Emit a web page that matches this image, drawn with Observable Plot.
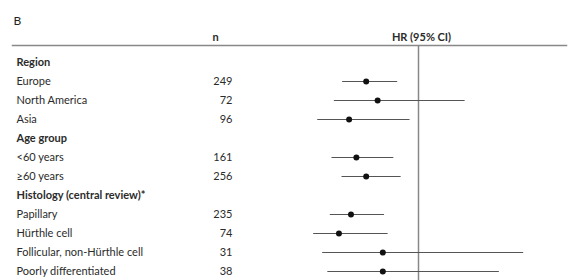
<!DOCTYPE html>
<html>
<head>
<meta charset="utf-8">
<script src="https://cdn.jsdelivr.net/npm/d3@7"></script>
<script src="https://cdn.jsdelivr.net/npm/@observablehq/plot@0.6"></script>
<style>
  body { margin: 0; background: #fff; }
  #chart svg { display: block; }
</style>
</head>
<body>
<div id="chart"></div>
<script>
// Row labels (in order), which rows are group headings, and sample sizes
const labels = [
  "Region", "Europe", "North America", "Asia",
  "Age group", "<60 years", "≥60 years",
  "Histology (central review)*", "Papillary", "Hürthle cell",
  "Follicular, non-Hürthle cell", "Poorly differentiated"
];
const isHeading = [true, false, false, false, true, false, false, true, false, false, false, false];
const nValues = [null, 249, 72, 96, null, 161, 256, null, 235, 74, 31, 38];
// Hazard ratios and 95% CI
const hr   = [null, 0.52, 0.60, 0.42, null, 0.46, 0.52, null, 0.43, 0.37, 0.64, 0.64];
const ciLo = [null, 0.385, 0.347, 0.282, null, 0.337, 0.382, null, 0.33, 0.268, 0.30, 0.32];
const ciHi = [null, 0.766, 1.78, 0.894, null, 0.73, 0.80, null, 0.65, 0.68, 3.70, 2.73];

const rows = labels.map((label, i) => ({
  label, heading: isHeading[i], n: nValues[i], hr: hr[i], lo: ciLo[i], hi: ciHi[i]
}));
const dataRows = rows.filter(d => d.hr != null);

const font = "Lato, 'Open Sans', sans-serif";
const textColor = "#2b2b2b";

const chart = Plot.plot({
  width: 581,
  height: 280,
  marginTop: 45,
  marginBottom: 0,
  marginLeft: 12,
  marginRight: 15,
  style: { fontFamily: font, fontSize: "11px", color: textColor, background: "#fff" },
  x: { type: "log", domain: [0.1, 10], range: [418 - 80 * Math.LN10, 418 + 80 * Math.LN10], axis: null },
  y: { type: "point", domain: labels, range: [61, 271], padding: 0, axis: null },
  marks: [
    Plot.frame({ anchor: "top", stroke: "#888", strokeWidth: 1.5 }),
    Plot.ruleX([1], { stroke: "#888", strokeWidth: 1.5 }),
    // header
    Plot.text(["B"], { frameAnchor: "top-left", dx: 1, dy: -29.5, textAnchor: "start", fontSize: 12, fill: "#222" }),
    Plot.text(["n"], { frameAnchor: "top-left", dx: 203, dy: -12, textAnchor: "middle", fontWeight: "bold", fill: textColor }),
    Plot.text(["HR (95% CI)"], { frameAnchor: "top-left", dx: 409, dy: -12, textAnchor: "middle", fontWeight: "bold", fill: textColor }),
    // row labels
    Plot.text(rows.filter(d => d.heading), {
      y: "label", text: "label", frameAnchor: "left", dx: 4, textAnchor: "start",
      fontWeight: "bold", fill: textColor
    }),
    Plot.text(rows.filter(d => !d.heading), {
      y: "label", text: "label", frameAnchor: "left", dx: 4, textAnchor: "start", fill: textColor
    }),
    Plot.text(rows.filter(d => d.n != null), {
      y: "label", text: d => String(d.n), frameAnchor: "left", dx: 220, textAnchor: "end", fill: textColor
    }),
    // CIs and point estimates
    Plot.link(dataRows, { x1: "lo", x2: "hi", y1: "label", y2: "label", stroke: "#555", strokeWidth: 1.2 }),
    Plot.dot(dataRows, { x: "hr", y: "label", r: 3, fill: "#111", stroke: "none" })
  ]
});
document.getElementById("chart").appendChild(chart);
</script>
</body>
</html>
